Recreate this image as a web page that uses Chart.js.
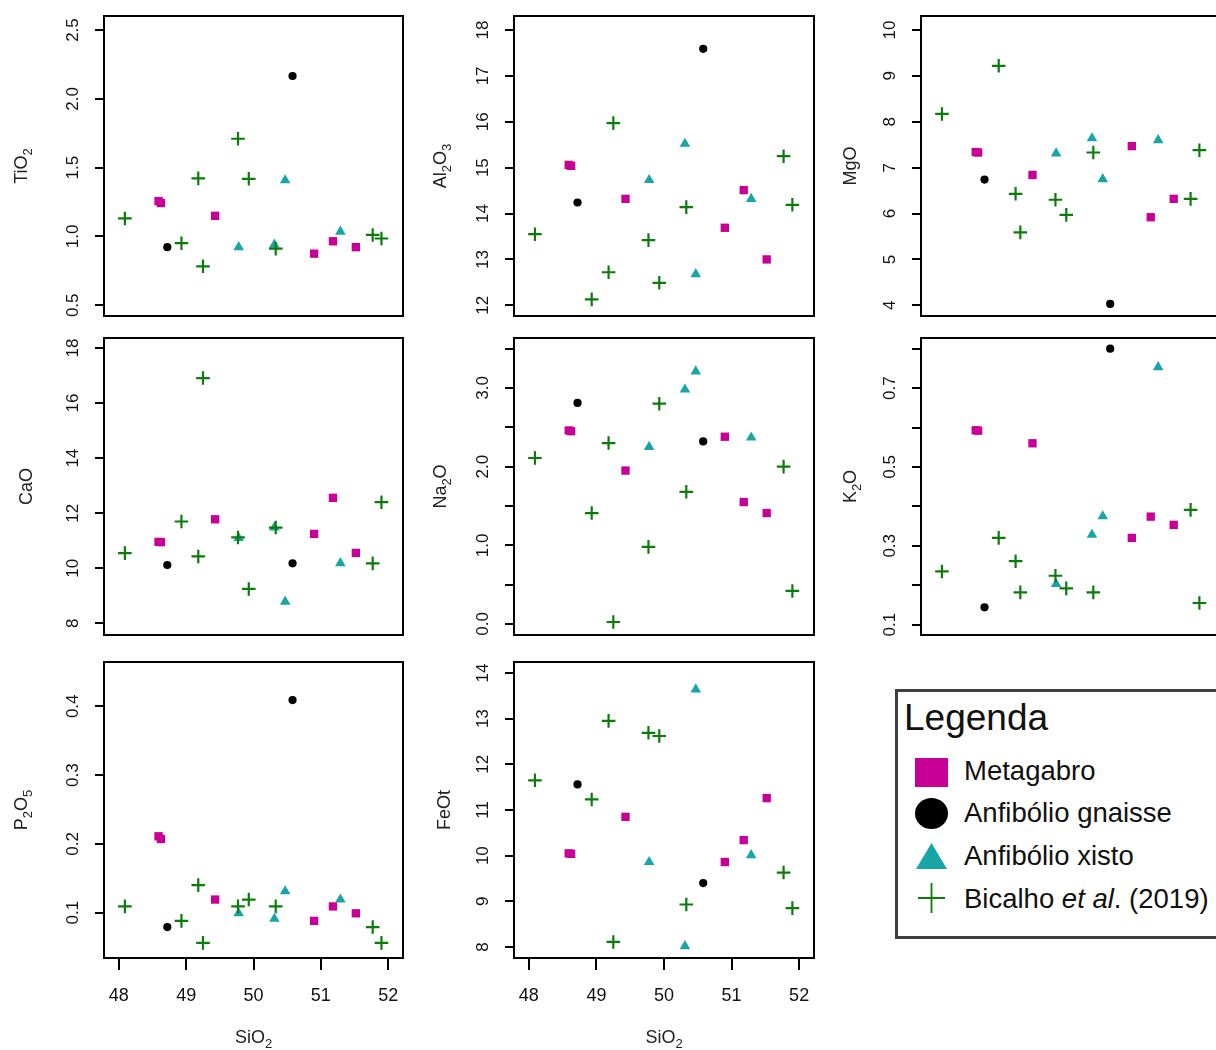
<!DOCTYPE html>
<html>
<head>
<meta charset="utf-8">
<title>Diagramas de Harker</title>
<script src="https://cdn.jsdelivr.net/npm/chart.js@4.4.1/dist/chart.umd.min.js"></script>
<style>
	html, body { margin: 0; padding: 0; background: #fff; overflow: hidden; }
	body { position: relative; width: 1216px; height: 1050px; font-family: "Liberation Sans", Arial, sans-serif; color: #111; }
	canvas { position: absolute; }
	#legend { position: absolute; left: 895px; top: 689px; width: 340px; height: 250px; border: 3px solid #404040; box-sizing: border-box; }
	#legend .lg-title { position: absolute; left: 6px; top: 5px; font-size: 37px; line-height: 42px; white-space: nowrap; }
	#legend .lg-item { position: absolute; left: 66px; font-size: 27.5px; line-height: 30px; white-space: nowrap; }
	#legend svg { position: absolute; left: 0; top: 0; }
</style>
</head>
<body>

<div id="legend">
	<div class="lg-title">Legenda</div>
	<svg width="64" height="240">
		<rect x="17" y="66" width="33" height="29" fill="#C80096"/>
		<ellipse cx="33.5" cy="121.5" rx="16.5" ry="15.5" fill="#000"/>
		<polygon points="33.5,151 18,177 49,177" fill="#17A5A5"/>
		<path d="M20 206H47M33.5 191V221" stroke="#0B7B0B" stroke-width="1.8" fill="none"/>
	</svg>
	<div class="lg-item" style="top:64px">Metagabro</div>
	<div class="lg-item" style="top:106px">Anfibólio gnaisse</div>
	<div class="lg-item" style="top:149px">Anfibólio xisto</div>
	<div class="lg-item" style="top:192px">Bicalho <i>et al</i>. (2019)</div>
</div>

<script>
	// -- SiO2 (eixo x) de cada amostra
	var metagabroSiO2 = [48.59, 48.625, 49.43, 50.90, 51.18, 51.52];
	var gnaisseSiO2 = [48.72, 50.58];
	var xistoSiO2 = [49.78, 50.31, 50.47, 51.29];
	var bicalhoSiO2 = [48.09, 48.93, 49.18, 49.25, 49.77, 49.93, 50.33, 51.77, 51.90];

	// -- TiO2
	var metagabroTiO2 = [1.257, 1.243, 1.15, 0.875, 0.965, 0.922];
	var gnaisseTiO2 = [0.922, 2.166];
	var xistoTiO2 = [0.922, 0.94, 1.408, 1.035];
	var bicalhoTiO2 = [1.131, 0.951, 1.422, 0.783, 1.71, 1.419, 0.911, 1.011, 0.985];
	// -- Al2O3
	var metagabroAl2O3 = [15.06, 15.04, 14.32, 13.69, 14.51, 13.00];
	var gnaisseAl2O3 = [14.24, 17.59];
	var xistoAl2O3 = [14.73, 15.52, 12.68, 14.32];
	var bicalhoAl2O3 = [13.55, 12.13, 12.72, 15.97, 13.42, 12.49, 14.14, 15.25, 14.19];
	// -- MgO
	var metagabroMgO = [7.34, 7.33, 6.84, 7.47, 5.92, 6.32];
	var gnaisseMgO = [6.74, 4.03];
	var xistoMgO = [7.31, 7.64, 6.75, 7.60];
	var bicalhoMgO = [8.17, 9.22, 6.43, 5.59, 6.30, 5.97, 7.33, 6.32, 7.38];
	// -- CaO
	var metagabroCaO = [10.96, 10.95, 11.78, 11.25, 12.56, 10.56];
	var gnaisseCaO = [10.12, 10.18];
	var xistoCaO = [11.10, 11.48, 8.79, 10.19];
	var bicalhoCaO = [10.55, 11.70, 10.43, 16.91, 11.12, 9.25, 11.48, 10.18, 12.40];
	// -- Na2O
	var metagabroNa2O = [2.46, 2.45, 1.95, 2.38, 1.55, 1.41];
	var gnaisseNa2O = [2.81, 2.32];
	var xistoNa2O = [2.25, 2.98, 3.21, 2.37];
	var bicalhoNa2O = [2.11, 1.41, 2.30, 0.025, 0.98, 2.80, 1.68, 2.00, 0.42];
	// -- K2O
	var metagabroK2O = [0.593, 0.592, 0.560, 0.320, 0.374, 0.353];
	var gnaisseK2O = [0.144, 0.800];
	var xistoK2O = [0.203, 0.328, 0.375, 0.753];
	var bicalhoK2O = [0.235, 0.320, 0.261, 0.182, 0.224, 0.192, 0.182, 0.391, 0.155];
	// -- P2O5
	var metagabroP2O5 = [0.211, 0.207, 0.119, 0.088, 0.109, 0.099];
	var gnaisseP2O5 = [0.079, 0.409];
	var xistoP2O5 = [0.099, 0.091, 0.131, 0.119];
	var bicalhoP2O5 = [0.109, 0.088, 0.140, 0.056, 0.109, 0.119, 0.109, 0.079, 0.056];
	// -- FeOt
	var metagabroFeOt = [10.05, 10.04, 10.85, 9.86, 10.34, 11.26];
	var gnaisseFeOt = [11.56, 9.40];
	var xistoFeOt = [9.86, 8.02, 13.64, 10.01];
	var bicalhoFeOt = [11.65, 11.23, 12.95, 8.11, 12.69, 12.62, 8.93, 9.63, 8.85];

	// -- Ticks
	var xTicks = [48, 49, 50, 51, 52];
	var tio2Ticks = [0.5, 1.0, 1.5, 2.0, 2.5];
	var al2o3Ticks = [12, 13, 14, 15, 16, 17, 18];
	var mgoTicks = [4, 5, 6, 7, 8, 9, 10];
	var caoTicks = [8, 10, 12, 14, 16, 18];
	var na2oTicks = [0, 0.5, 1, 1.5, 2, 2.5, 3, 3.5];
	var na2oLabels = [0, 1, 2, 3];
	var k2oTicks = [0.1, 0.2, 0.3, 0.4, 0.5, 0.6, 0.7, 0.8];
	var k2oLabels = [0.1, 0.3, 0.5, 0.7];
	var p2o5Ticks = [0.1, 0.2, 0.3, 0.4];
	var feotTicks = [8, 9, 10, 11, 12, 13, 14];

	var GROUPS = [
		{ label: 'Metagabro', sio2: metagabroSiO2, style: 'rect', radius: 5.9, color: '#C80096', order: 3 },
		{ label: 'Anfibólio gnaisse', sio2: gnaisseSiO2, style: 'circle', radius: 4.1, color: '#000000', order: 2 },
		{ label: 'Anfibólio xisto', sio2: xistoSiO2, style: 'triangle', radius: 6.1, color: '#17A5A5', order: 1 },
		{ label: 'Bicalho et al. (2019)', sio2: bicalhoSiO2, style: 'cross', radius: 6.8, color: '#0B7B0B', order: 0 }
	];

	// Paineis na ordem da grade (linha a linha). "_2" = subscrito no titulo;
	// titleOff = distancia do centro do titulo ate a caixa
	var PANELS = [
		{ title: 'TiO_2', values: [metagabroTiO2, gnaisseTiO2, xistoTiO2, bicalhoTiO2], ticks: tio2Ticks, labels: tio2Ticks, dec: 1, min: 0.422, max: 2.602, titleOff: 83 },
		{ title: 'Al_2O_3', values: [metagabroAl2O3, gnaisseAl2O3, xistoAl2O3, bicalhoAl2O3], ticks: al2o3Ticks, labels: al2o3Ticks, dec: 0, min: 11.767, max: 18.305, titleOff: 74 },
		{ title: 'MgO', values: [metagabroMgO, gnaisseMgO, xistoMgO, bicalhoMgO], ticks: mgoTicks, labels: mgoTicks, dec: 0, min: 3.767, max: 10.305, titleOff: 71 },
		{ title: 'CaO', values: [metagabroCaO, gnaisseCaO, xistoCaO, bicalhoCaO], ticks: caoTicks, labels: caoTicks, dec: 0, min: 7.578, max: 18.364, titleOff: 78 },
		{ title: 'Na_2O', values: [metagabroNa2O, gnaisseNa2O, xistoNa2O, bicalhoNa2O], ticks: na2oTicks, labels: na2oLabels, dec: 1, min: -0.14, max: 3.635, titleOff: 74 },
		{ title: 'K_2O', values: [metagabroK2O, gnaisseK2O, xistoK2O, bicalhoK2O], ticks: k2oTicks, labels: k2oLabels, dec: 1, min: 0.0738, max: 0.827, titleOff: 71 },
		{ title: 'P_2O_5', values: [metagabroP2O5, gnaisseP2O5, xistoP2O5, bicalhoP2O5], ticks: p2o5Ticks, labels: p2o5Ticks, dec: 1, min: 0.034, max: 0.4644, titleOff: 83 },
		{ title: 'FeOt', values: [metagabroFeOt, gnaisseFeOt, xistoFeOt, bicalhoFeOt], ticks: feotTicks, labels: feotTicks, dec: 0, min: 7.759, max: 14.24, titleOff: 70 }
	];
	var X_TITLE = 'SiO_2';

	var X_MIN = 47.78, X_MAX = 52.22;
	var COL_LEFT = [104, 514, 921];
	var COL_WIDTH = [299, 300, 300];
	var ROW_TOP = [16, 338, 662];
	var ROW_HEIGHT = [300, 297, 296];
	var MARGIN = 30, AXIS_W = 100, XAXIS_H = 92;
	var X_TITLE_Y = 79;   // centro do titulo SiO2 abaixo da caixa
	var TITLE_SIZE = 18;
	var FONT = '"Liberation Sans", Arial, sans-serif';

	Chart.defaults.font.family = FONT;

	// Caixa preta em volta da area do grafico
	var framePlugin = {
		id: 'frame',
		afterDraw: function (chart) {
			var a = chart.chartArea, ctx = chart.ctx;
			ctx.save();
			ctx.strokeStyle = '#000';
			ctx.lineWidth = 2;
			ctx.strokeRect(a.left, a.top, a.right - a.left, a.bottom - a.top);
			ctx.restore();
		}
	};

	// "P_2O_5" -> [['P',0],['2',1],['O',0],['5',1]]
	function parseTitle(str) {
		var parts = [];
		str.split(/(_\d)/).forEach(function (s) {
			if (s === '') return;
			if (s.charAt(0) === '_') parts.push([s.substring(1), true]);
			else parts.push([s, false]);
		});
		return parts;
	}

	// Texto com subscritos, centrado em (x, y); rot em radianos
	function drawRichText(ctx, str, x, y, rot) {
		var parts = parseTitle(str);
		var big = TITLE_SIZE + 'px ' + FONT, small = Math.round(TITLE_SIZE * 0.72) + 'px ' + FONT;
		var total = 0;
		parts.forEach(function (p) { ctx.font = p[1] ? small : big; total += ctx.measureText(p[0]).width; });
		ctx.save();
		ctx.translate(x, y);
		ctx.rotate(rot);
		ctx.fillStyle = '#222';
		ctx.textBaseline = 'alphabetic';
		ctx.textAlign = 'left';
		var cx = -total / 2, base = TITLE_SIZE * 0.358;
		parts.forEach(function (p) {
			ctx.font = p[1] ? small : big;
			ctx.fillText(p[0], cx, p[1] ? base + TITLE_SIZE * 0.28 : base);
			cx += ctx.measureText(p[0]).width;
		});
		ctx.restore();
	}

	function makePanel(p, idx) {
		var col = idx % 3, row = Math.floor(idx / 3);
		var isBottom = (row === 2);
		var boxW = COL_WIDTH[col], boxH = ROW_HEIGHT[row];

		var canvas = document.createElement('canvas');
		canvas.width = AXIS_W + boxW + MARGIN;
		canvas.height = MARGIN + boxH + (isBottom ? XAXIS_H : MARGIN);
		canvas.style.left = (COL_LEFT[col] - AXIS_W) + 'px';
		canvas.style.top = (ROW_TOP[row] - MARGIN) + 'px';
		document.body.appendChild(canvas);

		var datasets = GROUPS.map(function (g, gi) {
			return {
				label: g.label,
				data: g.sio2.map(function (x, i) { return { x: x, y: p.values[gi][i] }; }),
				pointStyle: g.style,
				pointRadius: g.radius,
				pointHoverRadius: g.radius,
				backgroundColor: g.color,
				borderColor: g.color,
				borderWidth: g.style === 'cross' ? 2.2 : 0,
				order: g.order
			};
		});

		// Titulos dos eixos (com subscritos)
		var titlePlugin = {
			id: 'axisTitles',
			afterDraw: function (chart) {
				var a = chart.chartArea, ctx = chart.ctx;
				drawRichText(ctx, p.title, a.left - p.titleOff, (a.top + a.bottom) / 2, -Math.PI / 2);
				if (isBottom) {
					drawRichText(ctx, X_TITLE, (a.left + a.right) / 2, a.bottom + X_TITLE_Y, 0);
				}
			}
		};

		var xScale = {
			type: 'linear',
			min: X_MIN,
			max: X_MAX,
			display: isBottom,
			afterBuildTicks: function (s) { s.ticks = xTicks.map(function (v) { return { value: v }; }); },
			grid: { display: true, drawOnChartArea: false, drawTicks: true, tickLength: 12, color: '#000', lineWidth: 2 },
			border: { display: false },
			ticks: { autoSkip: false, padding: 15, color: '#111', font: { size: 18 }, callback: function (v) { return String(v); } }
		};
		if (isBottom) {
			xScale.afterFit = function (s) { s.height = XAXIS_H; };
		}

		return new Chart(canvas, {
			type: 'scatter',
			data: { datasets: datasets },
			options: {
				responsive: false,
				animation: false,
				events: [],
				layout: { padding: { left: 0, top: MARGIN, right: MARGIN, bottom: isBottom ? 0 : MARGIN } },
				plugins: { legend: { display: false }, tooltip: { enabled: false } },
				scales: {
					x: xScale,
					y: {
						type: 'linear',
						min: p.min,
						max: p.max,
						afterBuildTicks: function (s) { s.ticks = p.ticks.map(function (v) { return { value: v }; }); },
						afterFit: function (s) { s.width = AXIS_W; },
						grid: { display: true, drawOnChartArea: false, drawTicks: true, tickLength: 9, color: '#000', lineWidth: 2 },
						border: { display: false },
						ticks: {
							autoSkip: false,
							minRotation: 90,
							maxRotation: 90,
							crossAlign: 'center',
							padding: p.dec > 0 ? 10 : 12,
							color: '#111',
							font: { size: 17 },
							callback: function (v) { return p.labels.indexOf(v) >= 0 ? v.toFixed(p.dec) : ''; }
						}
					}
				}
			},
			plugins: [framePlugin, titlePlugin]
		});
	}

	PANELS.forEach(makePanel);
</script>
</body>
</html>
